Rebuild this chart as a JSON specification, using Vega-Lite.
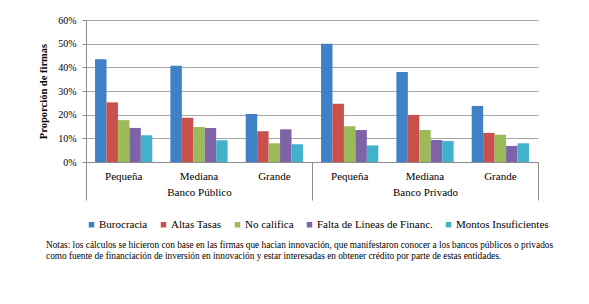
{
  "$schema": "https://vega.github.io/schema/vega-lite/v6.json",
  "width": 452,
  "height": 142,
  "autosize": {"type": "none"},
  "padding": {"left": 86, "top": 20, "right": 51, "bottom": 142},
  "background": "white",
  "title": {
    "text": [
      "Notas: los cálculos  se hicieron con base en las firmas que hacian  innovación, que manifestaron conocer a los bancos  públicos o privados",
      "como fuente de financiación  de inversión en  innovación y estar interesadas en obtener crédito por  parte de estas entidades."
    ],
    "orient": "bottom",
    "anchor": "start",
    "frame": "group",
    "dx": -40,
    "offset": 11,
    "font": "Liberation Serif, Times New Roman, serif",
    "fontSize": 9.3,
    "fontWeight": "normal",
    "color": "#000000",
    "lineHeight": 10.5
  },
  "data": {
    "values": [
      {"banco": "Banco Público", "tamano": "Pequeña", "grupo": "Banco Público|Pequeña", "causa": "Burocracia", "valor": 0.434},
      {"banco": "Banco Público", "tamano": "Pequeña", "grupo": "Banco Público|Pequeña", "causa": "Altas Tasas", "valor": 0.252},
      {"banco": "Banco Público", "tamano": "Pequeña", "grupo": "Banco Público|Pequeña", "causa": "No califica", "valor": 0.177},
      {"banco": "Banco Público", "tamano": "Pequeña", "grupo": "Banco Público|Pequeña", "causa": "Falta de Lineas de Financ.", "valor": 0.144},
      {"banco": "Banco Público", "tamano": "Pequeña", "grupo": "Banco Público|Pequeña", "causa": "Montos Insuficientes", "valor": 0.113},
      {"banco": "Banco Público", "tamano": "Mediana", "grupo": "Banco Público|Mediana", "causa": "Burocracia", "valor": 0.407},
      {"banco": "Banco Público", "tamano": "Mediana", "grupo": "Banco Público|Mediana", "causa": "Altas Tasas", "valor": 0.187},
      {"banco": "Banco Público", "tamano": "Mediana", "grupo": "Banco Público|Mediana", "causa": "No califica", "valor": 0.148},
      {"banco": "Banco Público", "tamano": "Mediana", "grupo": "Banco Público|Mediana", "causa": "Falta de Lineas de Financ.", "valor": 0.144},
      {"banco": "Banco Público", "tamano": "Mediana", "grupo": "Banco Público|Mediana", "causa": "Montos Insuficientes", "valor": 0.092},
      {"banco": "Banco Público", "tamano": "Grande", "grupo": "Banco Público|Grande", "causa": "Burocracia", "valor": 0.203},
      {"banco": "Banco Público", "tamano": "Grande", "grupo": "Banco Público|Grande", "causa": "Altas Tasas", "valor": 0.13},
      {"banco": "Banco Público", "tamano": "Grande", "grupo": "Banco Público|Grande", "causa": "No califica", "valor": 0.079},
      {"banco": "Banco Público", "tamano": "Grande", "grupo": "Banco Público|Grande", "causa": "Falta de Lineas de Financ.", "valor": 0.138},
      {"banco": "Banco Público", "tamano": "Grande", "grupo": "Banco Público|Grande", "causa": "Montos Insuficientes", "valor": 0.075},
      {"banco": "Banco Privado", "tamano": "Pequeña", "grupo": "Banco Privado|Pequeña", "causa": "Burocracia", "valor": 0.5},
      {"banco": "Banco Privado", "tamano": "Pequeña", "grupo": "Banco Privado|Pequeña", "causa": "Altas Tasas", "valor": 0.246},
      {"banco": "Banco Privado", "tamano": "Pequeña", "grupo": "Banco Privado|Pequeña", "causa": "No califica", "valor": 0.151},
      {"banco": "Banco Privado", "tamano": "Pequeña", "grupo": "Banco Privado|Pequeña", "causa": "Falta de Lineas de Financ.", "valor": 0.135},
      {"banco": "Banco Privado", "tamano": "Pequeña", "grupo": "Banco Privado|Pequeña", "causa": "Montos Insuficientes", "valor": 0.07},
      {"banco": "Banco Privado", "tamano": "Mediana", "grupo": "Banco Privado|Mediana", "causa": "Burocracia", "valor": 0.38},
      {"banco": "Banco Privado", "tamano": "Mediana", "grupo": "Banco Privado|Mediana", "causa": "Altas Tasas", "valor": 0.199},
      {"banco": "Banco Privado", "tamano": "Mediana", "grupo": "Banco Privado|Mediana", "causa": "No califica", "valor": 0.135},
      {"banco": "Banco Privado", "tamano": "Mediana", "grupo": "Banco Privado|Mediana", "causa": "Falta de Lineas de Financ.", "valor": 0.093},
      {"banco": "Banco Privado", "tamano": "Mediana", "grupo": "Banco Privado|Mediana", "causa": "Montos Insuficientes", "valor": 0.089},
      {"banco": "Banco Privado", "tamano": "Grande", "grupo": "Banco Privado|Grande", "causa": "Burocracia", "valor": 0.237},
      {"banco": "Banco Privado", "tamano": "Grande", "grupo": "Banco Privado|Grande", "causa": "Altas Tasas", "valor": 0.123},
      {"banco": "Banco Privado", "tamano": "Grande", "grupo": "Banco Privado|Grande", "causa": "No califica", "valor": 0.115},
      {"banco": "Banco Privado", "tamano": "Grande", "grupo": "Banco Privado|Grande", "causa": "Falta de Lineas de Financ.", "valor": 0.068},
      {"banco": "Banco Privado", "tamano": "Grande", "grupo": "Banco Privado|Grande", "causa": "Montos Insuficientes", "valor": 0.079}
    ]
  },
  "layer": [
    {
      "mark": {"type": "bar"},
      "encoding": {
        "x": {
          "field": "grupo",
          "type": "nominal",
          "sort": null,
          "scale": {"paddingInner": 0.24, "paddingOuter": 0.12},
          "axis": {
            "title": null,
            "orient": "bottom",
            "labelAngle": 0,
            "labelExpr": "split(datum.label, '|')[1]",
            "ticks": false,
            "tickSize": 0,
            "labelPadding": 8,
            "domain": true,
            "domainColor": "#8c8c8c",
            "labelFont": "Liberation Serif, Times New Roman, serif",
            "labelFontSize": 11,
            "labelColor": "#000000",
            "grid": false
          }
        },
        "xOffset": {
          "field": "causa",
          "type": "nominal",
          "sort": ["Burocracia", "Altas Tasas", "No califica", "Falta de Lineas de Financ.", "Montos Insuficientes"]
        },
        "y": {
          "field": "valor",
          "type": "quantitative",
          "scale": {"domain": [0, 0.6]},
          "axis": {
            "title": "Proporción de firmas",
            "format": "%",
            "values": [0, 0.1, 0.2, 0.3, 0.4, 0.5, 0.6],
            "labelOverlap": false,
            "grid": true,
            "gridColor": "#a6a6a6",
            "gridOpacity": 1,
            "domain": true,
            "domainColor": "#8c8c8c",
            "ticks": true,
            "tickSize": 4,
            "tickColor": "#8c8c8c",
            "labelPadding": 6,
            "labelFont": "Liberation Serif, Times New Roman, serif",
            "labelFontSize": 10,
            "labelColor": "#000000",
            "titleFont": "Liberation Serif, Times New Roman, serif",
            "titleFontSize": 10.5,
            "titleFontWeight": "bold",
            "titleColor": "#000000",
            "titlePadding": 9
          }
        },
        "color": {
          "field": "causa",
          "type": "nominal",
          "scale": {
            "domain": ["Burocracia", "Altas Tasas", "No califica", "Falta de Lineas de Financ.", "Montos Insuficientes"],
            "range": ["#3f80c6", "#c9504b", "#9bbb59", "#7e63a6", "#42b2cc"]
          },
          "legend": {
            "title": null,
            "orient": "bottom",
            "direction": "horizontal",
            "symbolType": "square",
            "symbolSize": 30,
            "symbolStrokeWidth": 0,
            "labelFont": "Liberation Serif, Times New Roman, serif",
            "labelFontSize": 11,
            "labelColor": "#000000",
            "labelOffset": 2,
            "columnPadding": 10,
            "offset": 18
          }
        }
      }
    },
    {
      "mark": {"type": "bar", "opacity": 0},
      "encoding": {
        "x": {
          "field": "banco",
          "type": "nominal",
          "sort": ["Banco Público", "Banco Privado"],
          "scale": {"paddingInner": 0, "paddingOuter": 0},
          "axis": {
            "title": null,
            "orient": "bottom",
            "labelAngle": 0,
            "domain": false,
            "grid": false,
            "ticks": true,
            "tickBand": "extent",
            "tickSize": 38,
            "tickColor": "#8c8c8c",
            "labelPadding": -14,
            "labelFont": "Liberation Serif, Times New Roman, serif",
            "labelFontSize": 11,
            "labelColor": "#000000"
          }
        }
      }
    }
  ],
  "resolve": {"scale": {"x": "independent"}},
  "config": {
    "view": {"stroke": null}
  }
}
